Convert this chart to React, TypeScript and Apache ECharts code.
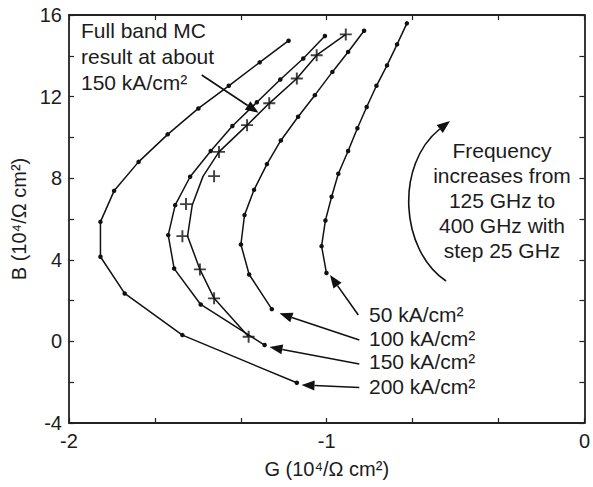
import React, { useEffect, useRef } from 'react';
import * as echarts from 'echarts';

// Frequencies 125..400 GHz, step 25 (bottom of each curve = 125 GHz)
const freqGHz = [125, 150, 175, 200, 225, 250, 275, 300, 325, 350, 375, 400];

// 50 kA/cm2
const g50 = [-1.001, -1.02, -1.005, -0.981, -0.955, -0.917, -0.881, -0.845, -0.807, -0.766, -0.727, -0.689];
const b50 = [3.35, 4.67, 5.93, 7.09, 8.22, 9.33, 10.45, 11.49, 12.53, 13.53, 14.56, 15.59];
// 100 kA/cm2
const g100 = [-1.213, -1.301, -1.333, -1.319, -1.282, -1.232, -1.178, -1.111, -1.046, -0.978, -0.917, -0.855];
const b100 = [1.58, 3.28, 4.75, 6.19, 7.43, 8.69, 9.85, 11.01, 12.07, 13.21, 14.19, 15.23];
// 150 kA/cm2
const g150 = [-1.241, -1.489, -1.592, -1.615, -1.588, -1.53, -1.45, -1.366, -1.271, -1.18, -1.091, -1.007];
const b150 = [-0.18, 1.81, 3.57, 5.21, 6.68, 8.07, 9.33, 10.56, 11.72, 12.84, 13.87, 14.97];
// 200 kA/cm2
const g200 = [-1.116, -1.56, -1.784, -1.878, -1.878, -1.825, -1.73, -1.617, -1.498, -1.38, -1.26, -1.148];
const b200 = [-2.03, 0.31, 2.35, 4.15, 5.86, 7.38, 8.8, 10.15, 11.42, 12.53, 13.68, 14.74];
// Full band MC line
const gMcLine = [-1.303, -1.437, -1.492, -1.54, -1.522, -1.48, -1.418, -1.309, -1.223, -1.116, -1.039, -0.926];
const bMcLine = [0.23, 2.11, 3.53, 5.16, 6.67, 8.09, 9.29, 10.6, 11.67, 12.89, 14.03, 15.05];
// Full band MC markers (+)
const gMc = [-1.303, -1.437, -1.492, -1.56, -1.546, -1.437, -1.418, -1.309, -1.223, -1.116, -1.039, -0.926];
const bMc = [0.23, 2.11, 3.53, 5.16, 6.73, 8.1, 9.29, 10.6, 11.67, 12.89, 14.03, 15.05];

const xTicks = [-2, -1, 0];
const yTicks = [-4, 0, 4, 8, 12, 16];

const INK = '#111';
const TXT = '#1c1c1c';
const FONT = 'Liberation Sans, Arial, Helvetica, sans-serif';
const PLUS = 'path://M4.2,0H5.8V4.2H10V5.8H5.8V10H4.2V5.8H0V4.2H4.2Z';

const zip = (g: number[], b: number[]) => g.map((v, i) => [v, b[i], freqGHz[i]]);

function arrow(x1: number, y1: number, x2: number, y2: number, len = 13, half = 5) {
  const dx = x2 - x1, dy = y2 - y1;
  const d = Math.hypot(dx, dy);
  const ux = dx / d, uy = dy / d;
  const bx = x2 - ux * len, by = y2 - uy * len;
  return [
    { type: 'line', shape: { x1, y1, x2: bx, y2: by }, style: { stroke: INK, lineWidth: 1.6 }, silent: true },
    {
      type: 'polygon',
      shape: { points: [[x2, y2], [bx - uy * half, by + ux * half], [bx + uy * half, by - ux * half]] },
      style: { fill: INK }, silent: true,
    },
  ];
}

function head(tipX: number, tipY: number, dirX: number, dirY: number, len = 13, half = 5) {
  const d = Math.hypot(dirX, dirY);
  const ux = dirX / d, uy = dirY / d;
  const bx = tipX - ux * len, by = tipY - uy * len;
  return {
    type: 'polygon',
    shape: { points: [[tipX, tipY], [bx - uy * half, by + ux * half], [bx + uy * half, by - ux * half]] },
    style: { fill: INK }, silent: true,
  };
}

export default function App() {
  const ref = useRef<HTMLDivElement>(null);
  useEffect(() => {
    if (!ref.current) return;
    const chart = echarts.init(ref.current, undefined, { renderer: 'svg' });
    const axisCommon = {
      axisLine: { show: true, onZero: false, lineStyle: { color: '#222', width: 1.8 } },
      axisTick: { show: true, inside: true, length: 5, lineStyle: { color: '#222', width: 1.2 } },
      minorTick: { show: true, length: 5, lineStyle: { color: '#222', width: 1.2 } },
      splitLine: { show: false },
      minorSplitLine: { show: false },
    };
    const lineSeries = (name: string, g: number[], b: number[]) => ({
      name, type: 'line', data: zip(g, b), symbol: 'circle', symbolSize: 4.5,
      lineStyle: { color: INK, width: 1.5 }, itemStyle: { color: INK }, z: 3,
    });
    const graphic: any[] = [
      {
        type: 'text', left: 'auto', x: 81, y: 17, silent: true,
        style: { text: 'Full band MC\nresult at about\n150 kA/cm²', font: `21px ${FONT}`, fill: TXT, lineHeight: 26, textAlign: 'left', textVerticalAlign: 'top' },
      },
      ...arrow(201.7, 75, 258.5, 112.7),
      {
        type: 'text', x: 502, y: 138, silent: true,
        style: { text: 'Frequency\nincreases from\n125 GHz to\n400 GHz with\nstep 25 GHz', font: `21px ${FONT}`, fill: TXT, lineHeight: 25, textAlign: 'center', textVerticalAlign: 'top' },
      },
      {
        type: 'bezierCurve', silent: true,
        shape: { x1: 446, y1: 281, cpx1: 400, cpy1: 250, cpx2: 395, cpy2: 165, x2: 439.7, y2: 129 },
        style: { stroke: INK, lineWidth: 1.6, fill: 'none' },
      },
      head(450, 121, 45, -35),
      ...[['50 kA/cm²', 314.3], ['100 kA/cm²', 338.3], ['150 kA/cm²', 361.7], ['200 kA/cm²', 386]].map(([t, y]) => ({
        type: 'text', x: 369, y: y as number, silent: true,
        style: { text: t as string, font: `21px ${FONT}`, fill: TXT, textAlign: 'left', textVerticalAlign: 'middle' },
      })),
      ...arrow(358.3, 315, 330, 275),
      ...arrow(359.3, 340, 279.5, 313.3),
      ...arrow(359.3, 364, 269.5, 347),
      ...arrow(359.3, 387.5, 301.5, 385),
    ];
    chart.setOption({
      animation: false,
      backgroundColor: '#fff',
      grid: { left: 69, right: 5, top: 15, bottom: 64, containLabel: false },
      xAxis: [
        {
          type: 'value', min: xTicks[0], max: xTicks[xTicks.length - 1], interval: 1,
          name: 'G (10⁴/Ω cm²)', nameLocation: 'middle', nameGap: 36,
          nameTextStyle: { fontFamily: FONT, fontSize: 20, color: TXT },
          axisLabel: { fontFamily: FONT, fontSize: 20, color: TXT, margin: 8, formatter: (v: number) => String(Math.round(v)) },
          ...axisCommon, minorTick: { ...axisCommon.minorTick, splitNumber: 3 },
        },
        {
          type: 'value', position: 'top', min: xTicks[0], max: xTicks[xTicks.length - 1], interval: 1,
          axisLabel: { show: false }, ...axisCommon, minorTick: { ...axisCommon.minorTick, splitNumber: 3 },
        },
      ],
      yAxis: [
        {
          type: 'value', min: yTicks[0], max: yTicks[yTicks.length - 1], interval: 4,
          name: 'B (10⁴/Ω cm²)', nameLocation: 'middle', nameGap: 36,
          nameTextStyle: { fontFamily: FONT, fontSize: 20, color: TXT },
          axisLabel: { fontFamily: FONT, fontSize: 20, color: TXT, margin: 7 },
          ...axisCommon, minorTick: { ...axisCommon.minorTick, splitNumber: 2 },
        },
        {
          type: 'value', position: 'right', min: yTicks[0], max: yTicks[yTicks.length - 1], interval: 4,
          axisLabel: { show: false }, ...axisCommon, minorTick: { ...axisCommon.minorTick, splitNumber: 2 },
        },
      ],
      series: [
        lineSeries('50 kA/cm²', g50, b50),
        lineSeries('100 kA/cm²', g100, b100),
        lineSeries('150 kA/cm²', g150, b150),
        lineSeries('200 kA/cm²', g200, b200),
        {
          name: 'MC line', type: 'line', data: zip(gMcLine, bMcLine), symbol: 'none',
          lineStyle: { color: INK, width: 1.5 }, z: 3,
        },
        {
          name: 'Full band MC', type: 'scatter', data: zip(gMc, bMc), symbol: PLUS, symbolSize: 12,
          itemStyle: { color: INK }, z: 4,
        },
      ],
      graphic,
    });
    return () => chart.dispose();
  }, []);
  return <div ref={ref} style={{ position: 'fixed', left: 0, top: 0, width: 593, height: 487 }} />;
}
